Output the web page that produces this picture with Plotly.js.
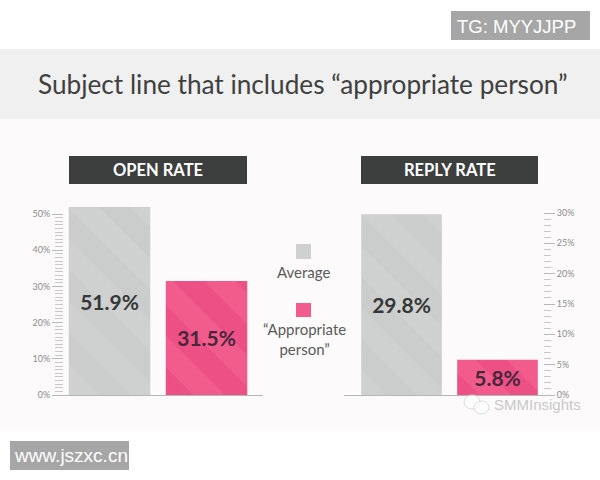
<!DOCTYPE html>
<html><head><meta charset="utf-8">
<script src="https://cdn.plot.ly/plotly-3.0.0.min.js"></script>
<style>html,body{margin:0;padding:0;background:#fff}</style></head>
<body><div id="chart" style="width:600px;height:480px"></div>
<script>
const categories = ['Average', '“Appropriate person”'];
const openRate = [51.9, 31.5];
const replyRate = [29.8, 5.8];
const openTicks = [0, 10, 20, 30, 40, 50];
const replyTicks = [0, 5, 10, 15, 20, 25, 30];
const chartTitle = 'Subject line that includes “appropriate person”';
const panelTitles = ['OPEN RATE', 'REPLY RATE'];
const legendLabels = ['Average', '“Appropriate<br>person”'];
const barColors = ['#cfd1d0', '#f25c8d'];
const stripeColors = ['#cbcdcc', '#ec5084'];
const labelColors = ['#363737', '#45283a'];
const W = 600, H = 480;
const px = v => v / W, py = v => 1 - v / H;
const FONT = 'Lato, sans-serif';
const range = n => Array.from({length: n + 1}, (_, i) => i);

function barTrace(vals, i, xa, ya) {
  return {
    type: 'bar', name: categories[i], x: [i], y: [vals[i]], xaxis: xa, yaxis: ya, width: 0.84,
    hoverinfo: 'skip', showlegend: false,
    marker: {color: barColors[i], line: {width: 0},
      pattern: {shape: '\\', size: 44, solidity: 0.5, fgcolor: stripeColors[i], fgopacity: 1, bgcolor: barColors[i]}},
    text: [vals[i].toFixed(1) + '%'], textposition: 'inside', insidetextanchor: 'middle',
    constraintext: 'none', textangle: 0,
    textfont: {family: FONT, size: 21, weight: 700, color: labelColors[i]}
  };
}
function rect(x0, y0, x1, y1, color, extra) {
  return Object.assign({type: 'rect', xref: 'paper', yref: 'paper', x0: px(x0), x1: px(x1), y0: py(y0), y1: py(y1),
    fillcolor: color, line: {width: 0}, layer: 'below'}, extra || {});
}
function note(text, x, y, size, color, extra) {
  return Object.assign({text, xref: 'paper', yref: 'paper', x: px(x), y: py(y), showarrow: false,
    xanchor: 'center', yanchor: 'middle', font: Object.assign({family: FONT, size, color}, extra || {})});
}
const tickStyle = {
  showgrid: false, zeroline: false, showline: false, ticks: 'outside', ticklen: 11, tickwidth: 1, tickcolor: '#b9b9b9',
  tickmode: 'array', tickfont: {family: FONT, size: 9, color: '#8c8c8c'}
};
const xStyle = {showgrid: false, zeroline: false, showticklabels: false, ticks: '', showline: true, linecolor: '#b5b5b5', linewidth: 1, fixedrange: true};
const SANS = 'Liberation Sans, sans-serif';

const layout = {
  width: W, height: H, margin: {l: 0, r: 0, t: 0, b: 0}, paper_bgcolor: '#fff', plot_bgcolor: 'rgba(0,0,0,0)',
  barmode: 'overlay', showlegend: false,
  xaxis: Object.assign({}, xStyle, {domain: [px(52), px(263)], range: [-0.593, 1.582], anchor: 'y'}),
  yaxis: Object.assign({}, tickStyle, {domain: [py(395), py(206.76)], range: [0, 52], anchor: 'free', position: px(63), side: 'left',
    tickvals: openTicks, ticktext: openTicks.map(v => v + '%'),
    minor: {tickmode: 'array', tickvals: range(50), ticks: 'outside', ticklen: 8, tickwidth: 1, tickcolor: '#c8c8c8', showgrid: false}}),
  xaxis2: Object.assign({}, xStyle, {domain: [px(344), px(555)], range: [-0.599, 1.599], anchor: 'y2'}),
  yaxis2: Object.assign({}, tickStyle, {domain: [py(395), py(213)], range: [0, 30], anchor: 'free', position: px(543), side: 'right',
    tickvals: replyTicks, ticktext: replyTicks.map(v => v + '%'),
    minor: {tickmode: 'array', tickvals: range(30), ticks: 'outside', ticklen: 7, tickwidth: 1, tickcolor: '#c8c8c8', showgrid: false}}),
  shapes: [
    rect(0, 49, 600, 119, '#eff0ef'),
    rect(0, 119, 600, 431, '#fcfafa'),
    rect(69, 156, 247, 184, '#3d3e3e'),
    rect(361, 156, 538, 184, '#3d3e3e'),
    rect(296, 244, 311, 259, barColors[0]),
    rect(296, 303, 311, 317, barColors[1]),
    rect(451, 11, 590, 40, '#a6a6a6'),
    rect(10, 441, 129, 470, '#a6a6a6'),
    {type: 'circle', xref: 'paper', yref: 'paper', x0: px(464), x1: px(480), y0: py(409), y1: py(395), line: {color: '#dcdcdc', width: 1}, fillcolor: 'rgba(255,255,255,0.5)', layer: 'above'},
    {type: 'circle', xref: 'paper', yref: 'paper', x0: px(474), x1: px(489), y0: py(414), y1: py(401), line: {color: '#dcdcdc', width: 1}, fillcolor: 'rgba(255,255,255,0.5)', layer: 'above'}
  ],
  annotations: [
    note(chartTitle, 303, 84, 26.2, '#3f4040'),
    note(panelTitles[0], 158, 170, 16.5, '#fff', {weight: 700}),
    note(panelTitles[1], 449.5, 170, 16.5, '#fff', {weight: 700}),
    note(legendLabels[0], 303, 272, 15, '#5a5a5a'),
    note(legendLabels[1], 304, 339, 15, '#5a5a5a'),
    note('TG: MYYJJPP', 516, 26, 18.5, '#fff', {family: SANS}),
    note('www.jszxc.cn', 71, 455, 19, '#fff', {family: SANS}),
    note('SMMInsights', 537.5, 404, 15, '#c9c9c9', {family: SANS})
  ]
};
const traces = [0, 1].map(i => barTrace(openRate, i, 'x', 'y')).concat([0, 1].map(i => barTrace(replyRate, i, 'x2', 'y2')));
Plotly.newPlot('chart', traces, layout, {displayModeBar: false, staticPlot: true});
</script></body></html>
